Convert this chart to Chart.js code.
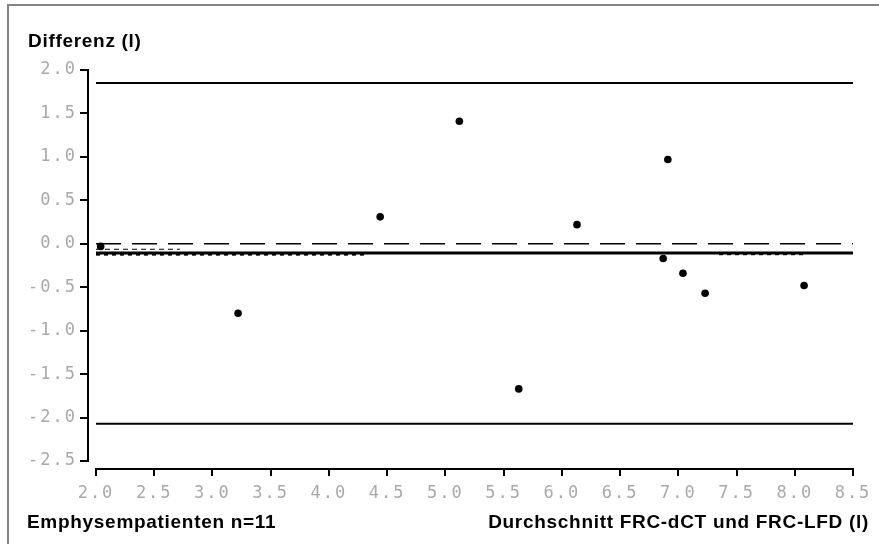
<!DOCTYPE html>
<html><head><meta charset="utf-8">
<script src="https://cdn.jsdelivr.net/npm/chart.js@4/dist/chart.umd.min.js"></script>
<style>
html,body{margin:0;padding:0;background:#fff;}
#wrap{position:relative;width:879px;height:544px;overflow:hidden;}
#frame{position:absolute;left:7px;top:4px;right:-5px;bottom:-5px;border-top:2px solid #858585;border-left:2px solid #858585;pointer-events:none;}
canvas{display:block;}
</style></head><body>
<div id="wrap"><canvas id="c" width="879" height="544"></canvas><div id="frame"></div></div>
<script>
// ---- data ----
const meanValues = [2.04, 3.22, 4.44, 5.12, 5.63, 6.13, 6.87, 6.91, 7.04, 7.23, 8.08];
const diffValues = [-0.03, -0.80, 0.31, 1.41, -1.67, 0.22, -0.17, 0.97, -0.34, -0.57, -0.48];
const xTicks = [2.0, 2.5, 3.0, 3.5, 4.0, 4.5, 5.0, 5.5, 6.0, 6.5, 7.0, 7.5, 8.0, 8.5];
const yTicks = [-2.5, -2.0, -1.5, -1.0, -0.5, 0.0, 0.5, 1.0, 1.5, 2.0];
const xRange = [2.0, 8.5];
const upperLimit = 1.85;
const lowerLimit = -2.07;
const meanDiff = -0.106;
const zeroLine = 0.0;
const leftGroupRange = [2.0, 4.31];
const leftGroupLevel = -0.125;
const rightGroupRange = [7.35, 8.08];
const rightGroupLevel = -0.12;
const fineRange = [2.0, 2.72];
const fineLevel = -0.063;
const yTitle = 'Differenz (l)';
const xTitle = 'Durchschnitt FRC-dCT und FRC-LFD (l)';
const noteText = 'Emphysempatienten n=11';

function seg(range, level){ return [{x: range[0], y: level}, {x: range[1], y: level}]; }

const lineDs = (data, width, dash) => ({
  type: 'scatter', data, showLine: true, borderColor: '#000', backgroundColor: '#000',
  borderWidth: width, borderDash: dash || [], pointRadius: 0, pointHoverRadius: 0, fill: false
});

const AXIS_PAD = 8; // px gap between axes
const axesPlugin = {
  id: 'axesPlugin',
  beforeDraw(chart){ chart.ctx.letterSpacing = '2px'; },
  afterDraw(chart){
    const ctx = chart.ctx;
    const xs = chart.scales.x, ys = chart.scales.y;
    ctx.save();
    ctx.strokeStyle = '#000';
    ctx.lineWidth = 2;
    ctx.beginPath();
    // y axis line
    const xl = chart.chartArea.left;
    ctx.moveTo(xl, ys.getPixelForValue(yTicks[yTicks.length-1]) - 1);
    ctx.lineTo(xl, ys.getPixelForValue(yTicks[0]) + 1);
    // x axis line
    const yb = chart.chartArea.bottom;
    ctx.moveTo(xs.getPixelForValue(xTicks[0]) - 1, yb);
    ctx.lineTo(xs.getPixelForValue(xTicks[xTicks.length-1]) + 1, yb);
    ctx.stroke();
    // texts
    ctx.letterSpacing = '0.7px';
    ctx.fillStyle = '#000';
    ctx.font = 'bold 19px "Liberation Sans", Arial, sans-serif';
    ctx.textBaseline = 'alphabetic';
    ctx.textAlign = 'left';
    ctx.fillText(yTitle, 28, 47);
    ctx.fillText(noteText, 27, 528);
    ctx.textAlign = 'right';
    ctx.fillText(xTitle, 869, 528);
    ctx.restore();
    ctx.letterSpacing = '0px';
  }
};

const tickFont = { family: '"DejaVu Sans Mono", monospace', size: 17 };
const tickColor = '#a9a9a9';

new Chart(document.getElementById('c'), {
  type: 'scatter',
  data: {
    datasets: [
      { data: meanValues.map((v, i) => ({x: v, y: diffValues[i]})), pointRadius: 3.8, pointBorderWidth: 0,
        backgroundColor: '#000', borderColor: '#000', showLine: false },
      lineDs(seg(xRange, upperLimit), 2),
      lineDs(seg(xRange, lowerLimit), 2),
      lineDs(seg(xRange, meanDiff), 3),
      lineDs(seg(xRange, zeroLine), 1.5, [25, 11]),
      lineDs(seg(leftGroupRange, leftGroupLevel), 2, [4, 4]),
      lineDs(seg(rightGroupRange, rightGroupLevel), 2, [4, 4]),
      lineDs(seg(fineRange, fineLevel), 1, [5, 4])
    ]
  },
  options: {
    responsive: false,
    animation: false,
    events: [],
    layout: { padding: { left: 0, top: 70, right: 26, bottom: 0 } },
    plugins: { legend: { display: false }, tooltip: { enabled: false }, title: { display: false } },
    scales: {
      x: {
        type: 'linear',
        min: 2.0 - 8 / 116.46,
        max: 8.5,
        afterBuildTicks: s => { s.ticks = xTicks.map(v => ({ value: v })); },
        afterFit: s => { s.height = 75; },
        border: { display: false },
        grid: { drawOnChartArea: false, drawTicks: true, tickLength: 7, color: '#000', lineWidth: 2 },
        ticks: { font: tickFont, color: tickColor, padding: 7, maxRotation: 0, autoSkip: false,
                 callback: v => Number(v).toFixed(1) }
      },
      y: {
        type: 'linear',
        min: -2.5 - 8 / 86.89,
        max: 2.0,
        afterBuildTicks: s => { s.ticks = yTicks.map(v => ({ value: v })); },
        afterFit: s => { s.width = 88; },
        border: { display: false },
        grid: { drawOnChartArea: false, drawTicks: true, tickLength: 8, color: '#000', lineWidth: 2 },
        ticks: { font: tickFont, color: tickColor, padding: 3, autoSkip: false,
                 callback: v => Number(v).toFixed(1) }
      }
    }
  },
  plugins: [axesPlugin]
});
</script>
</body></html>
